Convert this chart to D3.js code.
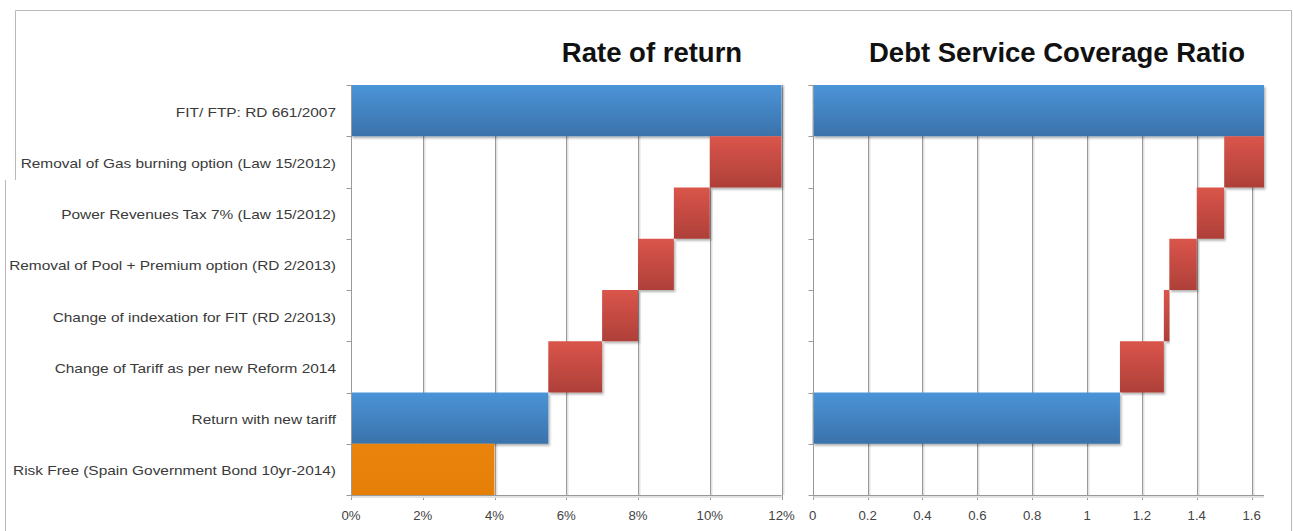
<!DOCTYPE html>
<html>
<head>
<meta charset="utf-8">
<script src="https://cdn.jsdelivr.net/npm/d3@7"></script>
<style>
  body { margin: 0; background: #fff; }
  svg { display: block; font-family: "Liberation Sans", Arial, sans-serif; }
</style>
</head>
<body>
<div id="chart"></div>
<script>
// categories, top to bottom
const categories = [
  "FIT/ FTP: RD 661/2007",
  "Removal of Gas burning option (Law 15/2012)",
  "Power Revenues Tax 7% (Law 15/2012)",
  "Removal of Pool + Premium option (RD 2/2013)",
  "Change of indexation for FIT (RD 2/2013)",
  "Change of Tariff as per new Reform 2014",
  "Return with new tariff",
  "Risk Free (Spain Government Bond 10yr-2014)"
];
// bar kind per category: total (blue), drop (red), benchmark (orange)
const barKind = ["total", "drop", "drop", "drop", "drop", "drop", "total", "benchmark"];

// Rate of return (%) - floating bars start/end
const rorStart = [0, 10, 9, 8, 7, 5.5, 0, 0];
const rorEnd = [12, 12, 10, 9, 8, 7, 5.5, 4];
const rorTicks = [0, 2, 4, 6, 8, 10, 12];

// Debt service coverage ratio - floating bars start/end (no risk free bar)
const dscrStart = [0, 1.5, 1.4, 1.3, 1.28, 1.12, 0, null];
const dscrEnd = [1.645, 1.645, 1.5, 1.4, 1.3, 1.28, 1.12, null];
const dscrTicks = [0, 0.2, 0.4, 0.6, 0.8, 1, 1.2, 1.4, 1.6];

const W = 1293, H = 531;
const plotTop = 85, plotBottom = 495;
const stretch = 1.1; // the source picture is a bit wider than tall

const svg = d3.select("#chart").append("svg")
  .attr("width", W)
  .attr("height", H);

// gradients + shadow
const defs = svg.append("defs");
const grad = (id, c1, c2) => {
  const g = defs.append("linearGradient").attr("id", id)
    .attr("x1", 0).attr("y1", 0).attr("x2", 0).attr("y2", 1);
  g.append("stop").attr("offset", "0%").attr("stop-color", c1);
  g.append("stop").attr("offset", "100%").attr("stop-color", c2);
};
grad("gBlue", "#4b94d8", "#3a72aa");
grad("gRed", "#da554b", "#ae4039");
grad("gOrange", "#ea840c", "#e67f08");
defs.append("filter").attr("id", "shadow")
  .attr("x", "-5%").attr("y", "-10%").attr("width", "115%").attr("height", "130%")
  .append("feDropShadow")
  .attr("dx", 1.5).attr("dy", 2).attr("stdDeviation", 1.2)
  .attr("flood-color", "#000").attr("flood-opacity", 0.3);

const fillFor = { total: "url(#gBlue)", drop: "url(#gRed)", benchmark: "url(#gOrange)" };

// outer frame (screenshot border, left edge jumps out below the first row)
svg.append("path")
  .attr("d", "M15.5,180 V10.5 H1291.5 V531 M5.5,180 V531")
  .attr("fill", "none").attr("stroke", "#b8b8b8");

// shared band scale
const y = d3.scaleBand()
  .domain(categories)
  .range([plotTop, plotBottom])
  .padding(0);

function drawPanel(opts) {
  const x = d3.scaleLinear().domain(opts.domain).range(opts.range);
  const g = svg.append("g");

  // gridlines
  const grid = opts.ticks.filter(t => t > 0);
  g.selectAll(".gridShade").data(grid).join("line")
    .attr("x1", d => Math.round(x(d)) + 1.5).attr("x2", d => Math.round(x(d)) + 1.5)
    .attr("y1", plotTop).attr("y2", plotBottom)
    .attr("stroke", "#e2e2e2").attr("stroke-width", 2);
  g.selectAll(".grid").data(grid).join("line")
    .attr("x1", d => Math.round(x(d)) + 0.5).attr("x2", d => Math.round(x(d)) + 0.5)
    .attr("y1", plotTop).attr("y2", plotBottom + 5)
    .attr("stroke", "#999");

  // bars
  const rows = categories.map((c, i) => ({
    cat: c, kind: barKind[i], s: opts.start[i], e: opts.end[i]
  })).filter(d => d.s != null);

  g.selectAll("rect.bar").data(rows).join("rect")
    .attr("class", "bar")
    .attr("x", d => x(d.s))
    .attr("y", d => y(d.cat))
    .attr("width", d => x(d.e) - x(d.s))
    .attr("height", y.bandwidth())
    .attr("fill", d => fillFor[d.kind])
    .attr("filter", d => d.kind === "benchmark" ? null : "url(#shadow)");

  // y axis line + category ticks
  const x0 = Math.round(x(0)) + 0.5;
  g.append("line")
    .attr("x1", x0).attr("x2", x0).attr("y1", plotTop).attr("y2", plotBottom + 5)
    .attr("stroke", "#999");
  const bounds = d3.range(categories.length + 1).map(i => plotTop + i * y.step());
  g.selectAll(".ytick").data(bounds).join("line")
    .attr("x1", x0 - 5).attr("x2", x0)
    .attr("y1", d => Math.round(d) + 0.5).attr("y2", d => Math.round(d) + 0.5)
    .attr("stroke", "#999");

  // x axis line
  g.append("line")
    .attr("x1", x0).attr("x2", opts.range[1])
    .attr("y1", plotBottom + 0.5).attr("y2", plotBottom + 0.5)
    .attr("stroke", "#999");
  g.append("line")
    .attr("x1", x0).attr("x2", opts.range[1])
    .attr("y1", plotBottom + 2).attr("y2", plotBottom + 2)
    .attr("stroke", "#e2e2e2").attr("stroke-width", 2);

  // tick labels
  g.selectAll(".xlab").data(opts.ticks).join("text")
    .attr("transform", d => `translate(${x(d)},520) scale(${stretch},1)`)
    .attr("text-anchor", "middle")
    .attr("font-size", 12)
    .attr("fill", "#444")
    .text(opts.format);

  // title
  svg.append("text")
    .attr("x", opts.titleX).attr("y", 62)
    .attr("text-anchor", "middle")
    .attr("font-size", 27.5)
    .attr("font-weight", "bold")
    .attr("fill", "#111")
    .text(opts.title);
}

drawPanel({
  domain: [0, 12], range: [351, 781.5],
  ticks: rorTicks, start: rorStart, end: rorEnd,
  format: d => d + "%",
  title: "Rate of return", titleX: 652
});

drawPanel({
  domain: [0, 1.645], range: [812.7, 1264],
  ticks: dscrTicks, start: dscrStart, end: dscrEnd,
  format: d => String(d),
  title: "Debt Service Coverage Ratio", titleX: 1057
});

// category labels
svg.selectAll(".catlab").data(categories).join("text")
  .attr("transform", d => `translate(336,${y(d) + y.bandwidth() / 2 + 6}) scale(1.16,1)`)
  .attr("text-anchor", "end")
  .attr("font-size", 13.3)
  .attr("fill", "#3a3a3a")
  .text(d => d);
</script>
</body>
</html>
